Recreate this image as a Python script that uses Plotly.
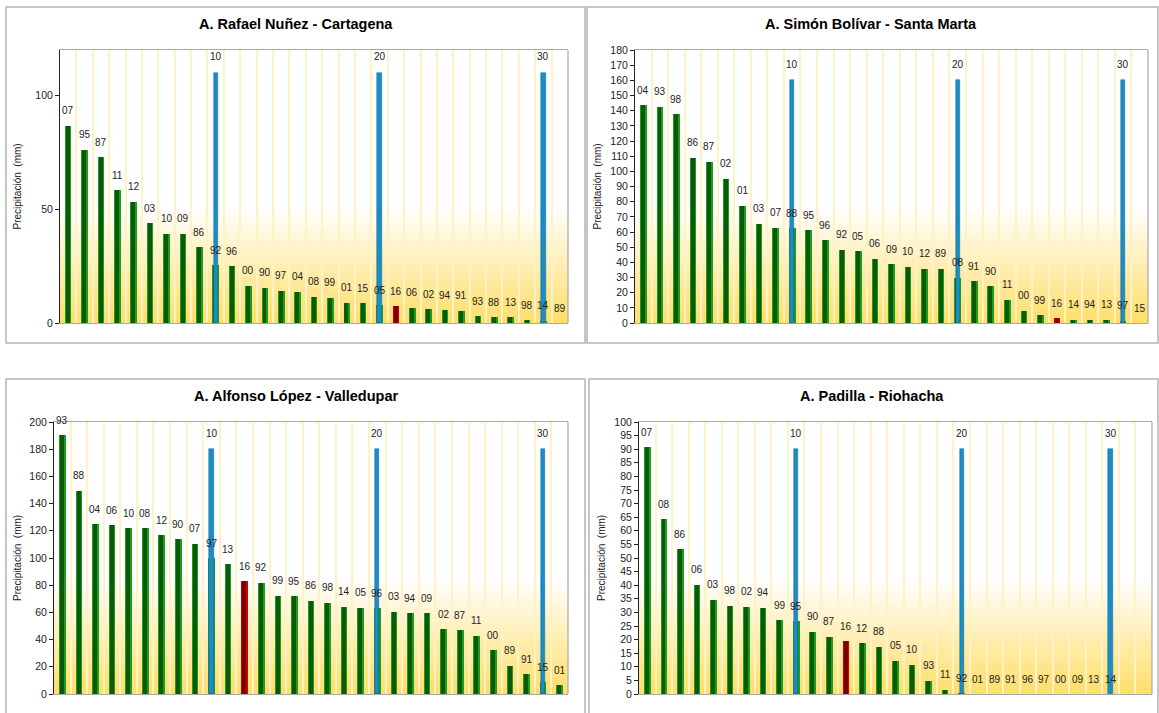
import plotly.graph_objects as go

W, H = 1159, 713

# ---------------- DATA ----------------
titles = ["A. Rafael Nuñez - Cartagena", "A. Simón Bolívar - Santa Marta",
          "A. Alfonso López - Valledupar", "A. Padilla - Riohacha"]

cart_years = ["07", "95", "87", "11", "12", "03", "10", "09", "86", "92", "96", "00", "90", "97", "04", "08",
              "99", "01", "15", "05", "16", "06", "02", "94", "91", "93", "88", "13", "98", "14", "89"]
cart_vals = [86.8, 76.1, 72.8, 58.3, 53.3, 43.9, 39.2, 39.2, 33.2, 25.3, 25.0, 16.4, 15.4, 14.2, 13.8, 11.6,
             11.0, 8.9, 8.6, 7.8, 7.3, 6.6, 6.0, 5.6, 5.3, 2.9, 2.6, 2.6, 1.2, 1.0, 0.0]

smar_years = ["04", "93", "98", "86", "87", "02", "01", "03", "07", "88", "95", "96", "92", "05", "06", "09",
              "10", "12", "89", "08", "91", "90", "11", "00", "99", "16", "14", "94", "13", "97", "15"]
smar_vals = [143.7, 142.6, 137.8, 108.9, 106.3, 95.0, 77.2, 65.4, 62.7, 62.5, 61.0, 54.4, 48.4, 47.3, 42.5, 38.7,
             37.0, 35.9, 35.7, 30.0, 27.5, 24.2, 15.4, 8.1, 5.0, 3.3, 2.2, 2.0, 2.0, 1.5, 0.0]

vall_years = ["93", "88", "04", "06", "10", "08", "12", "90", "07", "97", "13", "16", "92", "99", "95", "86",
              "98", "14", "05", "96", "03", "94", "09", "02", "87", "11", "00", "89", "91", "15", "01"]
vall_vals = [190.2, 149.4, 124.9, 124.0, 122.0, 122.0, 116.9, 113.9, 110.5, 100.0, 95.4, 82.9, 81.7, 72.1, 71.8, 68.7,
             67.0, 64.0, 63.3, 63.0, 60.4, 59.2, 59.2, 47.7, 46.9, 42.8, 32.0, 20.8, 14.7, 8.8, 6.4]

rioh_years = ["07", "08", "86", "06", "03", "98", "02", "94", "99", "95", "90", "87", "16", "12", "88", "05",
              "10", "93", "11", "92", "01", "89", "91", "96", "97", "00", "09", "13", "14"]
rioh_vals = [90.8, 64.2, 53.3, 40.1, 34.6, 32.4, 32.0, 31.7, 27.1, 26.7, 22.9, 21.0, 19.4, 18.6, 17.4, 12.2,
             10.8, 4.9, 1.5, 0.3, 0.0, 0.0, 0.0, 0.0, 0.0, 0.0, 0.0, 0.0, 0.0]

n_slots = 31
highlight_year = "16"

marker_labels = ["10", "20", "30"]
cart_marker_pos = [10, 20, 30]
smar_marker_pos = [10, 20, 30]
vall_marker_pos = [10, 20, 30]
rioh_marker_pos = [10, 20, 29]
marker_heights = [110, 160, 180, 90]

y_max = [120, 180, 200, 100]
y_dtick = [50, 10, 20, 5]

panels = [
    (cart_years, cart_vals, cart_marker_pos),
    (smar_years, smar_vals, smar_marker_pos),
    (vall_years, vall_vals, vall_marker_pos),
    (rioh_years, rioh_vals, rioh_marker_pos),
]

# ---------------- LAYOUT (pixel boxes) ----------------
plot_boxes = [(60, 50, 568, 323), (635, 50, 1148, 323), (54, 422, 568, 694), (639, 422, 1152, 694)]
frame_boxes = [(6, 7, 585, 343), (587, 7, 1158, 343), (6, 379, 585, 716), (589, 379, 1158, 716)]
ytitle_x = [17, 597, 17, 601]

FONT = "Arial, 'Liberation Sans', sans-serif"
GREEN = "#1c9e1c"
GREEN_DARK = "#0a5a0a"
RED = "#d00000"
RED_DARK = "#7a0000"
BLUE = "#1b8cc4"
GRID = "#fff2c4"


def px(x):
    return x / W


def py(y):
    return 1 - y / H


fig = go.Figure()
shapes = []
annotations = []
layout = {}

for i, ((years, vals, mpos), box, fbox) in enumerate(zip(panels, plot_boxes, frame_boxes)):
    k = "" if i == 0 else str(i + 1)
    xa, ya = "x" + k, "y" + k
    x0, y0, x1, y1 = box
    layout["xaxis" + k] = dict(
        domain=[px(x0), px(x1)], anchor=ya, range=[0.5, n_slots + 0.5], automargin=False,
        tickvals=[j + 0.5 for j in range(n_slots + 1)], showticklabels=False, ticks="",
        showgrid=True, gridcolor=GRID, gridwidth=2,
        showline=True, linecolor="#a8a8a8", linewidth=1.2, mirror=True, zeroline=False, fixedrange=True,
    )
    layout["yaxis" + k] = dict(
        domain=[py(y1), py(y0)], anchor=xa, range=[0, y_max[i]], dtick=y_dtick[i], automargin=False,
        showgrid=False, zeroline=False, showline=True, linecolor="#222", linewidth=1,
        ticks="outside", ticklen=4, tickcolor="#222",
        tickfont=dict(family=FONT, size=10.5, color="#222"), fixedrange=True,
    )
    xs = list(range(1, len(years) + 1))
    colors = [RED if y == highlight_year else GREEN for y in years]
    dark = [RED_DARK if y == highlight_year else GREEN_DARK for y in years]
    fig.add_trace(go.Bar(x=xs, y=vals, width=0.4, marker=dict(color=colors, line=dict(width=0)),
                         xaxis=xa, yaxis=ya, showlegend=False, hoverinfo="x+y"))
    fig.add_trace(go.Bar(x=xs, y=vals, width=0.24, offset=-0.14, marker=dict(color=dark, line=dict(width=0)),
                         xaxis=xa, yaxis=ya, showlegend=False, hoverinfo="skip"))
    fig.add_trace(go.Bar(x=mpos, y=[marker_heights[i]] * len(mpos), width=0.26,
                         marker=dict(color=BLUE, line=dict(color="#0f6a98", width=0.5)),
                         xaxis=xa, yaxis=ya, showlegend=False, hoverinfo="x+y"))
    # year labels
    for xv, yv, lab in zip(xs, vals, years):
        annotations.append(dict(x=xv, y=yv, xref=xa, yref=ya, text=lab, showarrow=False, yanchor="middle",
                                yshift=15, font=dict(family=FONT, size=10, color="#222")))
    for xv, lab in zip(mpos, marker_labels):
        annotations.append(dict(x=xv, y=marker_heights[i], xref=xa, yref=ya, text=lab, showarrow=False,
                                yanchor="middle", yshift=16, font=dict(family=FONT, size=10, color="#222")))
    # gradient background (stripes)
    ns = 40
    top = 0.42
    for s in range(ns):
        t = (s + 0.5) / ns
        r, g, b = 255, int(222 + (255 - 222) * t), int(105 + (255 - 105) * t)
        shapes.append(dict(type="rect", xref=xa + " domain", yref=ya + " domain", x0=0, x1=1,
                           y0=top * s / ns, y1=top * (s + 1) / ns + 0.002, fillcolor=f"rgb({r},{g},{b})",
                           line=dict(width=0), layer="below"))
    # right border
    shapes.append(dict(type="line", xref=xa + " domain", yref=ya + " domain", x0=1, x1=1, y0=0, y1=1,
                       line=dict(color="#a8a8a8", width=1.2)))
    # frame
    fx0, fy0, fx1, fy1 = fbox
    shapes.append(dict(type="rect", xref="paper", yref="paper", x0=px(fx0), x1=px(fx1), y0=py(fy1), y1=py(fy0),
                       line=dict(color="#b4b4b4", width=1.5), layer="below"))
    # title
    annotations.append(dict(x=(px(fx0) + px(fx1)) / 2 if i % 2 == 0 else px((fx0 + 1159) / 2 - 2),
                            y=py(fy0 + 17), xref="paper", yref="paper", text="<b>" + titles[i] + "</b>",
                            showarrow=False, yanchor="middle", xanchor="center",
                            font=dict(family=FONT, size=14.5, color="#000")))
    # y-axis title
    annotations.append(dict(x=px(ytitle_x[i]), y=py((y0 + y1) / 2), xref="paper", yref="paper",
                            text="Precipitación  (mm)", showarrow=False, textangle=-90, xanchor="center",
                            yanchor="middle", font=dict(family=FONT, size=10, color="#222")))

fig.update_layout(
    width=W, height=H, margin=dict(l=0, r=0, t=0, b=0, pad=0, autoexpand=False),
    paper_bgcolor="white", plot_bgcolor="rgba(0,0,0,0)",
    barmode="overlay", bargap=0, shapes=shapes, annotations=annotations,
    **layout,
)

fig.write_html(
    "out.html",
    config={"displayModeBar": False},
    post_script=("document.documentElement.style.overflow='hidden';"
                 "document.body.style.margin='0';document.body.style.padding='0';"
                 "var g=document.getElementById('{plot_id}');"
                 "g.style.position='fixed';g.style.left='0px';g.style.top='0px';"),
)
